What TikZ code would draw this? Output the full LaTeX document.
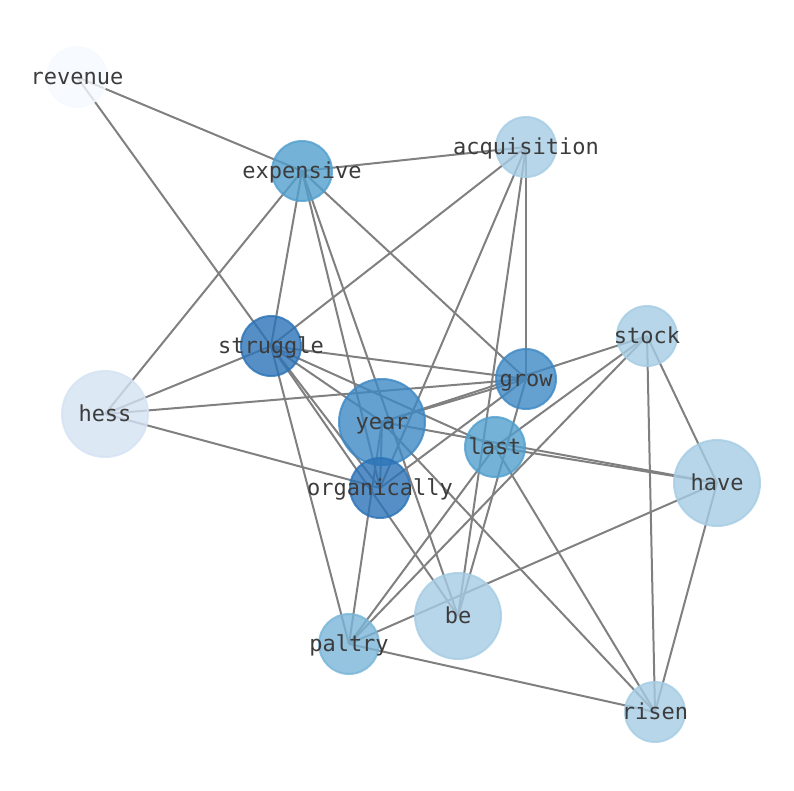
\documentclass[tikz,border=0pt]{standalone}
\usepackage{fontspec}
\setmonofont{DejaVu Sans Mono}
\pgfdeclarelayer{edgelayer}
\pgfdeclarelayer{textlayer}
\pgfsetlayers{edgelayer,main,textlayer}
\definecolor{cRev}{RGB}{245,250,255}
\definecolor{cHess}{RGB}{212,226,243}
\definecolor{cLight}{RGB}{165,204,228}
\definecolor{cPal}{RGB}{121,181,216}
\definecolor{cMid}{RGB}{81,159,205}
\definecolor{cDeep}{RGB}{61,136,196}
\definecolor{cDark}{RGB}{44,115,183}
\definecolor{txt}{RGB}{60,60,60}
\begin{document}
\begin{tikzpicture}[x=1pt,y=-1pt,
  nd/.style={circle,inner sep=0pt,draw opacity=0.8,fill opacity=0.8,line width=2pt},
  sm/.style={minimum size=60pt},
  lg/.style={minimum size=86pt},
  lbl/.style={font=\ttfamily\fontsize{22}{26}\selectfont,text=txt,inner sep=0pt,
    text height=16.5pt,text depth=1pt},
  edge/.style={draw=gray,line width=2pt}]
\useasboundingbox (0,0) rectangle (794,790);
\node[nd,sm,draw=cRev,fill=cRev] (revenue) at (77,77) {};
\node[nd,sm,draw=cMid,fill=cMid] (expensive) at (302,171) {};
\node[nd,sm,draw=cLight,fill=cLight] (acquisition) at (526,147) {};
\node[nd,sm,draw=cDark,fill=cDark] (struggle) at (271,346) {};
\node[nd,sm,draw=cLight,fill=cLight] (stock) at (647,336) {};
\node[nd,lg,draw=cHess,fill=cHess] (hess) at (105,414) {};
\node[nd,sm,draw=cDeep,fill=cDeep] (grow) at (526,379) {};
\node[nd,lg,draw=cDeep,fill=cDeep] (year) at (382,422) {};
\node[nd,sm,draw=cMid,fill=cMid] (last) at (495,447) {};
\node[nd,sm,draw=cDark,fill=cDark] (organically) at (380,488) {};
\node[nd,lg,draw=cLight,fill=cLight] (have) at (717,483) {};
\node[nd,lg,draw=cLight,fill=cLight] (be) at (458,616) {};
\node[nd,sm,draw=cPal,fill=cPal] (paltry) at (349,644) {};
\node[nd,sm,draw=cLight,fill=cLight] (risen) at (655,712) {};
\begin{pgfonlayer}{edgelayer}
\foreach \a/\b in {revenue/expensive,revenue/struggle,expensive/acquisition,
  expensive/struggle,expensive/hess,expensive/organically,expensive/be,expensive/grow,
  acquisition/struggle,acquisition/grow,acquisition/organically,acquisition/be,
  struggle/hess,struggle/grow,struggle/last,struggle/year,
  struggle/organically,struggle/be,struggle/paltry,hess/grow,hess/organically,
  grow/year,grow/be,grow/organically,year/stock,stock/last,stock/paltry,stock/risen,stock/have,
  year/have,last/have,year/paltry,year/risen,last/risen,last/paltry,have/paltry,
  have/risen,paltry/risen,year/organically}
  \draw[edge] (\a.center) -- (\b.center);
\end{pgfonlayer}
\begin{pgfonlayer}{textlayer}
\foreach \n in {revenue,expensive,acquisition,struggle,stock,hess,grow,year,last,
  organically,have,be,paltry,risen}
  \node[lbl] (\n-t) at (\n) {\n};
\end{pgfonlayer}
\end{tikzpicture}
\end{document}
